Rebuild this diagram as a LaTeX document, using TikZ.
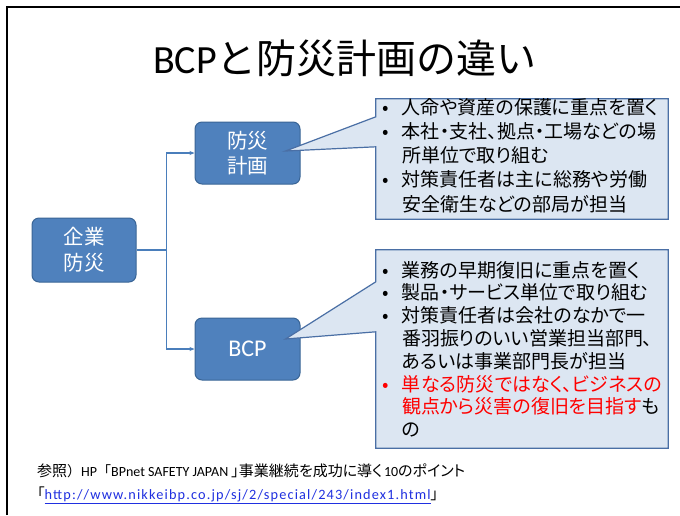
\documentclass[tikz,border=0pt]{standalone}
\usepackage{fontspec}
\setmainfont{Carlito}
\newfontfamily\jp{Noto Sans CJK JP}
\newfontfamily\jpp[RawFeature=+palt]{Noto Sans CJK JP}
\newfontfamily\urlfont[LetterSpace=8]{Carlito}
\usetikzlibrary{calc,arrows.meta}
\definecolor{boxblue}{HTML}{4F81BD}
\definecolor{boxedge}{HTML}{3A6596}
\definecolor{calfill}{HTML}{DCE6F2}
\definecolor{caledge}{HTML}{4A6FA5}
\definecolor{connblue}{HTML}{4A7EBB}
\definecolor{linkblue}{HTML}{2030E0}
\newcommand{\bul}{\makebox[22pt][l]{\hspace*{2pt}\textbullet}}
\newcommand{\ind}{\hspace*{22pt}}
\newcommand{\fj}[1]{{\jpp\fontsize{15}{23}\selectfont #1}}
\newcommand{\fw}[1]{{\jp\fontsize{14}{23}\selectfont #1}}
\begin{document}
\begin{tikzpicture}[x=1pt,y=-1pt,
  bluebox/.style={rectangle,rounded corners=7pt,fill=boxblue,draw=boxedge,line width=1pt,
    text=white,align=center,minimum width=105pt,minimum height=62pt,inner sep=0pt},
  calbox/.style={rectangle,inner sep=0pt},
  callout/.style={fill=calfill,draw=caledge,line width=1.2pt,line join=miter},
  caltext/.style={anchor=north west,inner sep=0pt,align=left,
    font=\jpp\fontsize{19}{24.3}\selectfont},
  conn/.style={draw=connblue,line width=1.2pt,-{Stealth[length=5pt,width=4pt]}}]
\useasboundingbox (0,0) rectangle (680,515);
\fill[white] (0,0) rectangle (680,515);
\draw[line width=2.5pt] (7,515) -- (7,7) -- (680,7);
% title
\node (title) at (345,58) {\fontsize{40}{48}\selectfont BCP{\jp と防災計画の違い}};
% boxes
\node[bluebox,minimum width=104pt,minimum height=64pt,font=\jp\fontsize{20.5}{26}\selectfont] (kigyo) at (84,250)
  {企業\\防災};
\node[bluebox,font=\jp\fontsize{20.5}{25}\selectfont] (bousai) at (247.5,153) {防災\\計画};
\node[bluebox,font=\fontsize{24}{28}\selectfont] (bcp) at (247.5,349) {BCP};
% connectors
\draw[conn] (kigyo.east) -- ++(30,0) |- (bousai.west);
\draw[conn] (kigyo.east) -- ++(30,0) |- (bcp.west);
% callouts
\node[calbox,minimum width=292pt,minimum height=120pt] (c1) at (522,159) {};
\node[calbox,minimum width=292pt,minimum height=198pt] (c2) at (522,349) {};
\draw[callout] (c1.north west) -- (c1.north east) -- (c1.south east) -- (c1.south west)
  -- ($(c1.north west)+(0,48)$) -- ($(bousai.east)+(-15,-2)$) -- ($(c1.north west)+(0,18)$) -- cycle;
\draw[callout] (c2.north west) -- (c2.north east) -- (c2.south east) -- (c2.south west)
  -- ($(c2.north west)+(0,82)$) -- ($(bcp.east)+(-15,-10)$) -- ($(c2.north west)+(0,32)$) -- cycle;
\node[caltext] (t1) at ($(c1.north west)+(4,-1)$) {%
\bul 人命や資産の保護に重点を置く\\
\bul 本社・支社、拠点・工場などの場\\
\ind 所単位で取り組む\\
\bul 対策責任者は主に総務や労働\\
\ind 安全衛生などの部局が担当};
\node[caltext,font=\jpp\fontsize{19}{22.8}\selectfont] (t2) at ($(c2.north west)+(4,11)$) {%
\bul 業務の早期復旧に重点を置く\\
\bul 製品・サービス単位で取り組む\\
\bul 対策責任者は会社のなかで一\\
\ind 番羽振りのいい営業担当部門、\\
\ind あるいは事業部門長が担当\\
\textcolor{red}{\bul 単なる防災ではなく、ビジネスの}\\
\ind \textcolor{red}{観点から災害の復旧を目指す}も\\
\ind の};
% footer
\node[anchor=west,inner sep=0pt,align=left,font=\fontsize{14}{23}\selectfont] (ref) at (37,484)
  {\fj{参照}\fw{）}HP\fw{「}BPnet SAFETY JAPAN \fj{」事業継続を成功に導く}\kern1.5pt 10\fj{のポイント}\\
   \fj{「}\textcolor{linkblue}{\underline{\urlfont\fontsize{14.3}{23}\selectfont http://www.nikkeibp.co.jp/sj/2/special/243/index1.html}}\fj{」}};
\end{tikzpicture}
\end{document}
